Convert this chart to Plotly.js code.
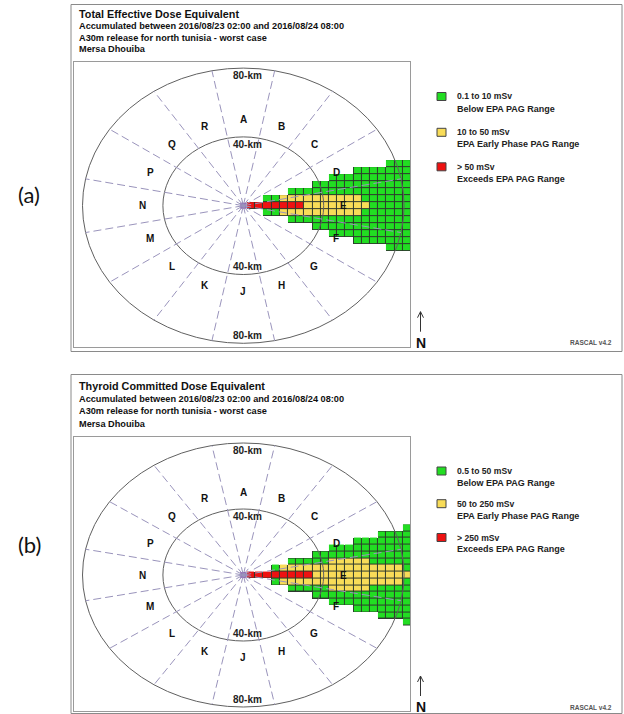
<!DOCTYPE html>
<html><head><meta charset="utf-8">
<script src="https://cdn.plot.ly/plotly-3.0.1.min.js"></script>
<style>html,body{margin:0;padding:0;background:#fff}#chart{width:624px;height:714px}</style>
</head><body><div id="chart"></div>
<script>
// ---------------- data ----------------
const panelLabels = ['(a)', '(b)'];
const titlesA = ['Total Effective Dose Equivalent',
  'Accumulated between 2016/08/23 02:00 and 2016/08/24 08:00',
  'A30m release for north tunisia - worst case',
  'Mersa Dhouiba'];
const titlesB = ['Thyroid Committed Dose Equivalent',
  'Accumulated between 2016/08/23 02:00 and 2016/08/24 08:00',
  'A30m release for north tunisia - worst case',
  'Mersa Dhouiba'];
const legendRangesA = ['0.1 to 10 mSv', '10 to 50 mSv', '> 50 mSv'];
const legendRangesB = ['0.5 to 50 mSv', '50 to 250 mSv', '> 250 mSv'];
const legendMeanings = ['Below EPA PAG Range', 'EPA Early Phase PAG Range', 'Exceeds EPA PAG Range'];
const doseColors = ['#22dd22', '#f8dc58', '#ee1111'];
const sectorLetters = ['A','B','C','D','E','F','G','H','J','K','L','M','N','P','Q','R'];
const ringKm = [40, 80];
const sectorLabelKm = 50;
const cellKm = 4.08;          // grid cell size
const firstCellEdgeKm = 1.79; // left edge of the first downwind column
// half-width (in cells, either side of the plume axis) of each band, per downwind column
const plumeA_any    = [0,0,1,1,1,2,2,2,3,3,4,4,4,5,5,5,5,6,6,6,6];
const plumeA_yellow = [-1,-1,-1,-1,1,1,1,1,1,1,1,1,1,1,0,-1,-1,-1,-1,-1,-1];
const plumeA_red    = [0,0,0,0,0,0,0,-1,-1,-1,-1,-1,-1,-1,-1,-1,-1,-1,-1,-1,-1];
const plumeB_any    = [0,0,0,1,1,2,2,2,3,3,4,4,4,5,5,5,6,6,6,7,7];
const plumeB_yellow = [-1,-1,-1,-1,1,1,1,1,1,1,2,2,2,2,2,1,1,1,1,0,0];
const plumeB_red    = [0,0,0,0,0,0,0,0,-1,-1,-1,-1,-1,-1,-1,-1,-1,-1,-1,-1,-1];

// ---------------- layout helpers ----------------
const W = 624, H = 714;
const px = v => v / W;
const py = v => 1 - v / H;

const panels = [
  {label: panelLabels[0], titles: titlesA, ranges: legendRangesA, any: plumeA_any, yel: plumeA_yellow, red: plumeA_red,
   xa: 'x', ya: 'y', frameTop: 4.5, frameBottom: 351.5, boxTop: 62, boxBottom: 346.7, cy: 205.7, sy: 1.72,
   titleY: [14, 26, 37.5, 49], legY: [[96.5, 109.3], [132.3, 143.6], [166.8, 179]], labelY: 195},
  {label: panelLabels[1], titles: titlesB, ranges: legendRangesB, any: plumeB_any, yel: plumeB_yellow, red: plumeB_red,
   xa: 'x2', ya: 'y2', frameTop: 374.5, frameBottom: 713.5, boxTop: 437, boxBottom: 711, cy: 575, sy: 1.65,
   titleY: [386, 399, 411, 423.5], legY: [[471, 483.3], [503.7, 515.8], [537.5, 549.3]], labelY: 544}
];
const boxLeft = 74, boxRight = 410, cx = 243.3, sx = 2.01;

function buildZ(any, yel, red) {
  const rows = [];
  for (let j = -7; j <= 7; j++) {
    const row = [];
    for (let i = 0; i < any.length; i++) {
      const a = Math.abs(j);
      let v = null;
      if (a <= red[i]) v = 3; else if (a <= yel[i]) v = 2; else if (a <= any[i]) v = 1;
      row.push(v);
    }
    rows.push(row);
  }
  return rows;
}

const traces = [], shapes = [], annotations = [];
const layout = {
  width: W, height: H, margin: {l: 0, r: 0, t: 0, b: 0},
  paper_bgcolor: '#fff', plot_bgcolor: '#fff', showlegend: false,
  font: {family: 'Liberation Sans, Arial, sans-serif', color: '#111'}
};
const F = 'Liberation Sans, Arial, sans-serif';

panels.forEach((p, pi) => {
  const xk = p.xa === 'x' ? 'xaxis' : 'xaxis2';
  const yk = p.ya === 'y' ? 'yaxis' : 'yaxis2';
  const axCommon = {showgrid: false, zeroline: false, showticklabels: false, ticks: '',
    showline: true, mirror: true, linecolor: '#9a9a9a', linewidth: 1, fixedrange: true};
  layout[xk] = Object.assign({}, axCommon, {domain: [px(boxLeft), px(boxRight)],
    range: [(boxLeft - cx) / sx, (boxRight - cx) / sx], anchor: p.ya});
  layout[yk] = Object.assign({}, axCommon, {domain: [py(p.boxBottom), py(p.boxTop)],
    range: [-(p.boxBottom - p.cy) / p.sy, (p.cy - p.boxTop) / p.sy], anchor: p.xa});

  const z = buildZ(p.any, p.yel, p.red);
  const grid = {x0: firstCellEdgeKm + cellKm / 2, dx: cellKm, y0: -7 * cellKm, dy: cellKm};
  traces.push(Object.assign({type: 'heatmap', z: z, xaxis: p.xa, yaxis: p.ya, showscale: false,
    colorscale: [[0, '#2e3a2e'], [1, '#2e3a2e']], zmin: 0.5, zmax: 3.5, hoverinfo: 'skip'}, grid));
  traces.push(Object.assign({type: 'heatmap', z: z, xaxis: p.xa, yaxis: p.ya, showscale: false,
    xgap: 1, ygap: 1, zmin: 0.5, zmax: 3.5, hoverinfo: 'skip',
    colorscale: [[0, doseColors[0]], [1/3, doseColors[0]], [1/3, doseColors[1]], [2/3, doseColors[1]],
                 [2/3, doseColors[2]], [1, doseColors[2]]]}, grid));
  // source marker
  traces.push({type: 'scatter', mode: 'markers', x: [0], y: [0], xaxis: p.xa, yaxis: p.ya,
    marker: {symbol: 'square', size: 6, color: '#8a3fb0'}, hoverinfo: 'skip'});

  // rings
  ringKm.forEach(r => {
    shapes.push({type: 'circle', xref: p.xa, yref: p.ya, x0: -r, x1: r, y0: -r, y1: r,
      line: {color: '#606060', width: 1}, layer: 'above'});
    [1, -1].forEach(s => annotations.push({xref: p.xa, yref: p.ya, x: 2.3, y: s * (r - 4.5), xanchor: 'center',
      text: '<b>' + r + '-km</b>', showarrow: false, font: {family: F, size: 10, color: '#222'}}));
  });
  // sector boundaries & letters
  const maxR = ringKm[ringKm.length - 1];
  sectorLetters.forEach((L, i) => {
    const ang = (90 - 22.5 * i) * Math.PI / 180;
    const bnd = (90 - 22.5 * i + 11.25) * Math.PI / 180;
    shapes.push({type: 'line', xref: p.xa, yref: p.ya, x0: 0, y0: 0,
      x1: maxR * Math.cos(bnd), y1: maxR * Math.sin(bnd),
      line: {color: '#9a94bc', width: 1, dash: '8px,4px'}, layer: 'above'});
    annotations.push({xref: p.xa, yref: p.ya, x: sectorLabelKm * Math.cos(ang), y: sectorLabelKm * Math.sin(ang),
      xanchor: 'center', text: '<b>' + L + '</b>', showarrow: false, font: {family: F, size: 10, color: '#111'}});
  });

  // frame
  shapes.push({type: 'rect', xref: 'paper', yref: 'paper', x0: px(71), x1: px(622), y0: py(p.frameBottom), y1: py(p.frameTop),
    line: {color: '#8a8a8a', width: 1}, layer: 'below'});
  // titles
  p.titles.forEach((t, i) => {
    annotations.push({xref: 'paper', yref: 'paper', x: px(77), y: py(p.titleY[i]), xanchor: 'left', yanchor: 'middle',
      text: '<b>' + t + '</b>', showarrow: false, font: {family: F, size: i === 0 ? 10.8 : 9.2, color: '#111'}});
  });
  // legend
  p.ranges.forEach((r, i) => {
    const [y1, y2] = p.legY[i];
    shapes.push({type: 'rect', xref: 'paper', yref: 'paper', x0: px(437), x1: px(446), y0: py(y1 + 4), y1: py(y1 - 4),
      fillcolor: doseColors[i], line: {color: '#444', width: 1}});
    annotations.push({xref: 'paper', yref: 'paper', x: px(455), y: py(y1), xanchor: 'left', yanchor: 'middle',
      text: '<b>' + r + '</b>', showarrow: false, font: {family: F, size: 8.6, color: '#222'}});
    annotations.push({xref: 'paper', yref: 'paper', x: px(455), y: py(y2), xanchor: 'left', yanchor: 'middle',
      text: '<b>' + legendMeanings[i] + '</b>', showarrow: false, font: {family: F, size: 9, color: '#222'}});
  });
  // north arrow
  const b = p.boxBottom;
  shapes.push({type: 'line', xref: 'paper', yref: 'paper', x0: px(420.5), x1: px(420.5), y0: py(b - 15), y1: py(b - 35),
    line: {color: '#333', width: 1}});
  shapes.push({type: 'line', xref: 'paper', yref: 'paper', x0: px(417.5), x1: px(420.5), y0: py(b - 29), y1: py(b - 35),
    line: {color: '#333', width: 1}});
  shapes.push({type: 'line', xref: 'paper', yref: 'paper', x0: px(423.5), x1: px(420.5), y0: py(b - 29), y1: py(b - 35),
    line: {color: '#333', width: 1}});
  annotations.push({xref: 'paper', yref: 'paper', x: px(421), y: py(b - 4), xanchor: 'center', yanchor: 'middle',
    text: '<b>N</b>', showarrow: false, font: {family: F, size: 14, color: '#111'}});
  annotations.push({xref: 'paper', yref: 'paper', x: px(591), y: py(b - 4), xanchor: 'center', yanchor: 'middle',
    text: '<b>RASCAL v4.2</b>', showarrow: false, font: {family: F, size: 6.5, color: '#555'}});
  // panel label
  annotations.push({xref: 'paper', yref: 'paper', x: px(29), y: py(p.labelY), xanchor: 'center', yanchor: 'middle',
    text: p.label, showarrow: false, font: {family: 'Lato, Open Sans, sans-serif', size: 22, color: '#111'}});
});

layout.shapes = shapes;
layout.annotations = annotations;
Plotly.newPlot('chart', traces, layout, {displayModeBar: false, staticPlot: true});
</script>
</body></html>
